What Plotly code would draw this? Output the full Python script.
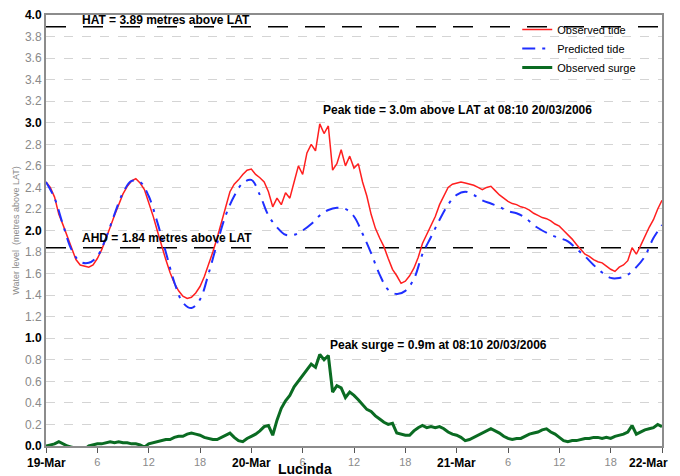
import pandas as pd
import plotly.graph_objects as go

# ---------------- data ----------------
START = "2006-03-19 00:00"
END = "2006-03-22 00:00"

# Predicted tide, hourly from 19-Mar 00:00 (metres above LAT)
predicted_tide = [
    2.45, 2.30, 2.05, 1.82, 1.71, 1.70, 1.76, 1.93, 2.15, 2.35, 2.46, 2.45,
    2.32, 2.08, 1.80, 1.52, 1.33, 1.28, 1.36, 1.60, 1.88, 2.14, 2.32, 2.44,
    2.47, 2.33, 2.14, 2.03, 1.96, 1.96, 2.00, 2.06, 2.14, 2.19, 2.21, 2.20,
    2.13, 1.97, 1.79, 1.59, 1.45, 1.41, 1.44, 1.55, 1.78, 1.94, 2.10, 2.24,
    2.33, 2.36, 2.33, 2.28, 2.25, 2.22, 2.18, 2.16, 2.12, 2.05, 2.00, 1.96,
    1.93, 1.90, 1.83, 1.76, 1.68, 1.61, 1.56, 1.56, 1.59, 1.66, 1.76, 1.93,
    2.05,
]

# Observed tide, half-hourly from 19-Mar 00:00
observed_tide = [
    2.45, 2.40, 2.31, 2.15, 2.05, 1.94, 1.82, 1.73, 1.68, 1.67, 1.66, 1.68,
    1.74, 1.82, 1.92, 2.03, 2.14, 2.25, 2.34, 2.41, 2.46, 2.48, 2.44, 2.38,
    2.27, 2.14, 2.00, 1.86, 1.73, 1.61, 1.51, 1.44, 1.39, 1.37, 1.38, 1.42,
    1.48, 1.57, 1.68, 1.80, 1.93, 2.07, 2.22, 2.36, 2.43, 2.47, 2.52, 2.56,
    2.57, 2.52, 2.49, 2.45, 2.36, 2.22, 2.30, 2.24, 2.35, 2.30, 2.45, 2.60,
    2.52, 2.72, 2.80, 2.74, 2.99, 2.90, 2.97, 2.56, 2.62, 2.75, 2.60, 2.69,
    2.58, 2.62, 2.45, 2.32, 2.15, 2.02, 1.93, 1.85, 1.74, 1.64, 1.58, 1.51,
    1.53, 1.58, 1.65, 1.75, 1.88, 1.96, 2.05, 2.13, 2.24, 2.32, 2.40, 2.43,
    2.44, 2.45, 2.44, 2.43, 2.42, 2.40, 2.38, 2.40, 2.41, 2.37, 2.33, 2.30,
    2.27, 2.25, 2.24, 2.22, 2.21, 2.19, 2.16, 2.14, 2.12, 2.11, 2.09, 2.06,
    2.04, 2.00, 1.96, 1.92, 1.87, 1.82, 1.78, 1.76, 1.73, 1.71, 1.70, 1.67,
    1.64, 1.62, 1.66, 1.68, 1.72, 1.84, 1.78, 1.86, 1.95, 2.03, 2.10, 2.20,
    2.28,
]

# Observed surge, half-hourly from 19-Mar 00:00
observed_surge = [
    0.00, 0.01, 0.02, 0.04, 0.02, 0.00, -0.01, -0.02, -0.02, -0.03, 0.00, 0.01,
    0.02, 0.02, 0.03, 0.04, 0.03, 0.04, 0.03, 0.03, 0.02, 0.02, 0.01, -0.01,
    0.02, 0.03, 0.04, 0.05, 0.06, 0.06, 0.08, 0.09, 0.09, 0.11, 0.12, 0.11,
    0.10, 0.08, 0.07, 0.06, 0.06, 0.08, 0.10, 0.12, 0.08, 0.05, 0.04, 0.07,
    0.09, 0.11, 0.14, 0.18, 0.19, 0.10, 0.24, 0.35, 0.42, 0.47, 0.55, 0.60,
    0.66, 0.70, 0.76, 0.73, 0.85, 0.80, 0.84, 0.50, 0.56, 0.54, 0.45, 0.50,
    0.47, 0.43, 0.38, 0.34, 0.32, 0.28, 0.25, 0.22, 0.20, 0.21, 0.12, 0.11,
    0.10, 0.10, 0.14, 0.17, 0.19, 0.17, 0.18, 0.17, 0.18, 0.16, 0.13, 0.11,
    0.10, 0.08, 0.05, 0.06, 0.08, 0.10, 0.12, 0.14, 0.16, 0.14, 0.12, 0.09,
    0.07, 0.06, 0.07, 0.07, 0.09, 0.11, 0.12, 0.13, 0.15, 0.16, 0.13, 0.11,
    0.08, 0.05, 0.04, 0.05, 0.05, 0.06, 0.07, 0.07, 0.08, 0.08, 0.07, 0.08,
    0.07, 0.09, 0.10, 0.11, 0.13, 0.19, 0.11, 0.13, 0.15, 0.16, 0.17, 0.20,
    0.18,
]

HAT = 3.89
AHD = 1.84

x_tick_times = pd.date_range(START, END, freq="6h")
day_times = pd.date_range(START, END, freq="1D")
day_labels = ["19-Mar", "20-Mar", "21-Mar", "22-Mar"]
hour_labels = ["6", "12", "18"]
y_tick_values = [round(0.2 * i, 1) for i in range(21)]

# ---------------- figure ----------------
t_pred = pd.date_range(START, periods=len(predicted_tide), freq="1h")
t_obs = pd.date_range(START, periods=len(observed_tide), freq="30min")
t_surge = pd.date_range(START, periods=len(observed_surge), freq="30min")

fig = go.Figure()

fig.add_trace(go.Scatter(x=[START, END], y=[HAT, HAT], mode="lines",
                         line=dict(color="black", width=1.5, dash="20px,17px"),
                         showlegend=False, hoverinfo="skip"))
fig.add_trace(go.Scatter(x=[START, END], y=[AHD, AHD], mode="lines",
                         line=dict(color="black", width=1.5, dash="20px,17px"),
                         showlegend=False, hoverinfo="skip"))

fig.add_trace(go.Scatter(x=t_obs, y=observed_tide, mode="lines", name="Observed tide",
                         line=dict(color="#ff1f1f", width=1.5)))
fig.add_trace(go.Scatter(x=t_pred, y=predicted_tide, mode="lines", name="Predicted tide",
                         line=dict(color="#1f2fff", width=2, dash="13px,7px,3px,7px"),
                         line_shape="spline"))
fig.add_trace(go.Scatter(x=t_surge, y=observed_surge, mode="lines", name="Observed surge",
                         line=dict(color="#0a6b22", width=3)))

# tick labels: hours as tick text, days as annotations below
ticktext = []
hi = 0
for i, t in enumerate(x_tick_times):
    if i % 4 == 0:
        ticktext.append("")
    else:
        ticktext.append(hour_labels[hi % 3])
        hi += 1

ytext = []
for v in y_tick_values:
    if abs(v - round(v)) < 1e-9:
        ytext.append("<b>%.1f</b>" % v)
    else:
        ytext.append('<span style="color:#8a8a8a">%.1f</span>' % v)

# page body has an 8px default margin; size the figure to fit the 680x476 window
fig.update_layout(
    width=672, height=468,
    margin=dict(l=38, r=18, t=7, b=30),
    paper_bgcolor="white", plot_bgcolor="white",
    font=dict(family="Liberation Sans, Arial, sans-serif", size=11, color="black"),
    showlegend=True,
    legend=dict(x=0.765, y=1.0, xanchor="left", yanchor="top",
                bgcolor="rgba(0,0,0,0)", borderwidth=0,
                font=dict(size=11, color="black"), tracegroupgap=0),
    xaxis=dict(range=[START, END], tickmode="array", tickvals=x_tick_times, ticktext=ticktext,
               automargin=False,
               showgrid=False, zeroline=False, showline=True, linecolor="#8c8c8c", linewidth=2,
               mirror=True, ticks="outside", ticklen=5, tickcolor="#555",
               tickfont=dict(size=11, color="#8a8a8a")),
    yaxis=dict(range=[0, 4.0], tickmode="array", tickvals=y_tick_values, ticktext=ytext,
               automargin=False,
               showgrid=True, gridcolor="#d4d4d4", griddash="dash", gridwidth=1,
               zeroline=False, showline=True, linecolor="#8c8c8c", linewidth=2, mirror=True,
               ticks="", tickfont=dict(size=12, color="black"),
               title=dict(text="Water level  (metres above LAT)",
                          font=dict(size=9, color="#8a8a8a"), standoff=4)),
)

for i, (t, lab) in enumerate(zip(day_times, day_labels)):
    last = i == len(day_labels) - 1
    fig.add_annotation(x=t, y=-0.039, yref="paper", text="<b>" + lab + "</b>",
                       showarrow=False, xanchor="right" if last else "center", yanchor="middle",
                       xshift=8 if last else 0,
                       font=dict(size=12, color="black", family="Liberation Sans, Arial, sans-serif"))

ann_font = dict(size=12, color="black", family="Liberation Sans, Arial, sans-serif")
fig.add_annotation(x="2006-03-19 04:00", y=HAT, text="<b>HAT = 3.89 metres above LAT</b>",
                   showarrow=False, xanchor="left", yanchor="middle", yshift=7, font=ann_font)
fig.add_annotation(x="2006-03-19 04:00", y=AHD, text="<b>AHD = 1.84 metres above LAT</b>",
                   showarrow=False, xanchor="left", yanchor="middle", yshift=10, font=ann_font)
fig.add_annotation(x="2006-03-20 08:10", y=3.12,
                   text="<b>Peak tide = 3.0m above LAT at 08:10 20/03/2006</b>",
                   showarrow=False, xanchor="left", yanchor="middle", font=ann_font)
fig.add_annotation(x="2006-03-20 09:00", y=0.94,
                   text="<b>Peak surge = 0.9m at 08:10 20/03/2006</b>",
                   showarrow=False, xanchor="left", yanchor="middle", font=ann_font)
fig.add_annotation(xref="paper", yref="paper", x=0.42, y=-0.054, text="<b>Lucinda</b>",
                   showarrow=False, xanchor="center", yanchor="middle",
                   font=dict(size=14, color="black", family="Liberation Sans, Arial, sans-serif"))

fig.write_html("out.html")
